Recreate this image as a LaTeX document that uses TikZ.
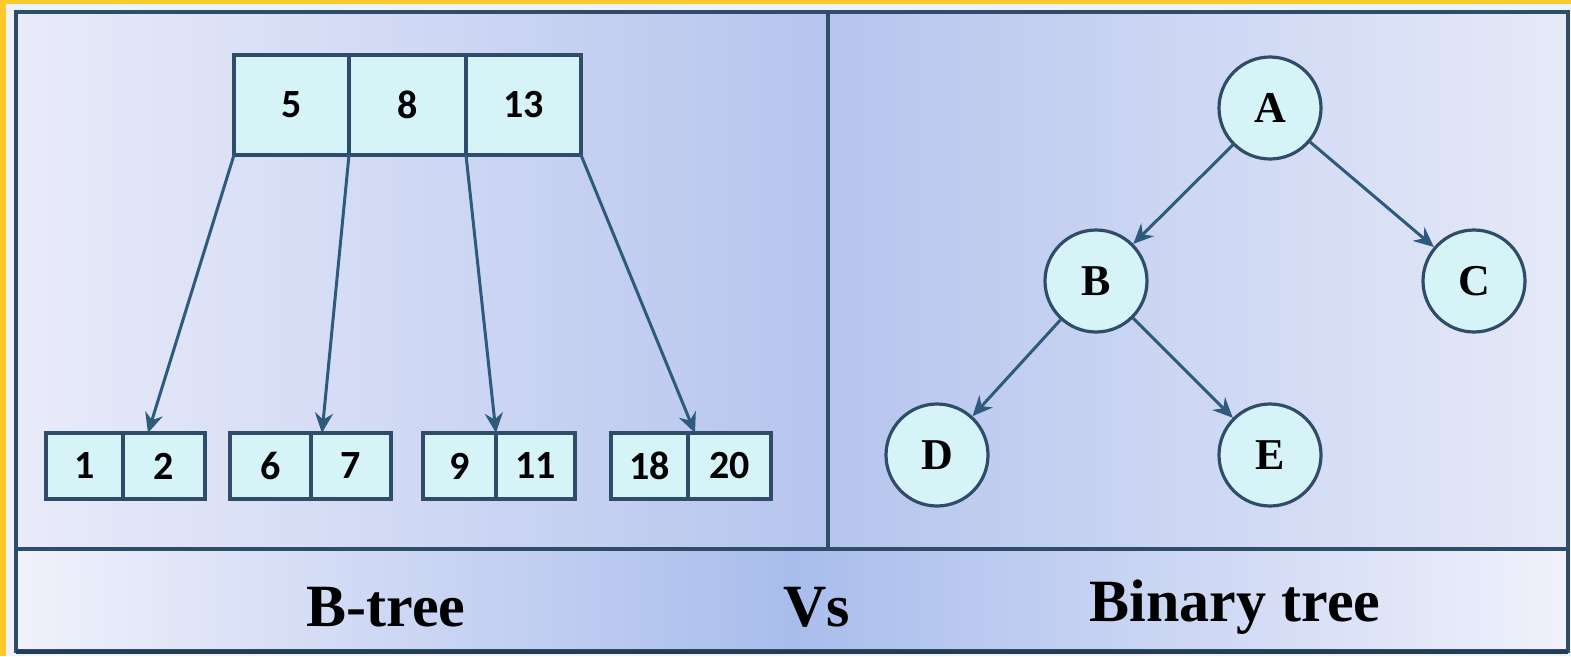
\documentclass[tikz,border=0pt]{standalone}
\usepackage{fontspec}
\setmainfont{Liberation Serif}
\newfontfamily\cellfont{Carlito}
\usetikzlibrary{arrows.meta}
\definecolor{yel}{HTML}{FFC92C}
\definecolor{paleedge}{HTML}{EEF2FA}
\definecolor{framec}{HTML}{2F4C68}
\definecolor{arrowc}{HTML}{2E5A7C}
\definecolor{cellfill}{HTML}{D6F4F8}
\definecolor{bgA}{HTML}{E9EBF9}
\definecolor{bgB}{HTML}{B6C5EE}
\definecolor{bgC}{HTML}{E6EAF8}
\definecolor{barL}{HTML}{F0F1FB}
\definecolor{barM}{HTML}{A9BDEC}
\begin{document}
\begin{tikzpicture}[x=1pt,y=-1pt,
  cellbox/.style={draw=framec, line width=3.2pt, fill=cellfill, inner sep=0pt, outer sep=0pt,
     font=\cellfont\bfseries\fontsize{40}{44}\selectfont},
  topcell/.style={cellbox, minimum height=100pt},
  leafcell/.style={cellbox, minimum height=66pt},
  circ/.style={circle, draw=framec, line width=3.2pt, fill=cellfill, minimum size=102pt, inner sep=0pt,
     font=\bfseries\fontsize{44}{48}\selectfont},
  arr/.style={draw=arrowc, line width=3pt, -{Stealth[length=20pt,width=18pt]}},
  lbl/.style={font=\bfseries\fontsize{60}{64}\selectfont, inner sep=0pt}
]
\useasboundingbox (0,0) rectangle (1571,656);
% outer background and yellow margin
\fill[paleedge] (0,0) rectangle (1571,656);
\fill[yel] (0,0) rectangle (1571,4);
\fill[yel] (0,0) rectangle (6,656);
% panels
\shade[left color=bgA, right color=bgB] (16,12) rectangle (828,549);
\shade[left color=bgB, right color=bgC] (828,12) rectangle (1568,549);
\shade[left color=barL, right color=barL, middle color=barM] (16,549) rectangle (1568,651);
% frame
\draw[framec, line width=3.2pt] (16,12) rectangle (1568,651);
\draw[framec!80!black, line width=4.5pt] (16,652) -- (1568,652);
\draw[framec, line width=3.2pt] (828,12) -- (828,549);
\draw[framec, line width=3.2pt] (16,549) -- (1568,549);

% B-tree root
\node[topcell, minimum width=115pt] (t1) at (291.5,105) {5};
\node[topcell, minimum width=117pt] (t2) at (407.5,105) {8};
\node[topcell, minimum width=115pt] (t3) at (523.5,105) {13};
% leaves
\node[leafcell, minimum width=77pt] (l1a) at (84.5,466) {1};
\node[leafcell, minimum width=82pt] (l1b) at (164,466) {2};
\node[leafcell, minimum width=81pt] (l2a) at (270.5,466) {6};
\node[leafcell, minimum width=80pt] (l2b) at (351,466) {7};
\node[leafcell, minimum width=73pt] (l3a) at (459.5,466) {9};
\node[leafcell, minimum width=79pt] (l3b) at (535.5,466) {11};
\node[leafcell, minimum width=77pt] (l4a) at (649.5,466) {18};
\node[leafcell, minimum width=83pt] (l4b) at (729.5,466) {20};
% B-tree arrows
\draw[arr] (t1.south west) -- ([xshift=25pt]l1b.north west);
\draw[arr] (t1.south east) -- ([xshift=11pt]l2b.north west);
\draw[arr] (t2.south east) -- (l3b.north west);
\draw[arr] (t3.south east) -- ([xshift=7pt]l4b.north west);

% Binary tree
\node[circ] (A) at (1270,108) {A};
\node[circ] (B) at (1096,281) {B};
\node[circ] (C) at (1474,281) {C};
\node[circ] (D) at (937,455) {D};
\node[circ] (E) at (1270,455) {E};
\draw[arr] (A) -- (B);
\draw[arr] (A) -- (C);
\draw[arr] (B) -- (D);
\draw[arr] (B) -- (E);

% bottom labels
\node[lbl] (lb1) at (386,607) {B-tree};
\node[lbl] (lb2) at (817,607) {Vs};
\node[lbl] (lb3) at (1235,607) {Binary tree};
\end{tikzpicture}
\end{document}
